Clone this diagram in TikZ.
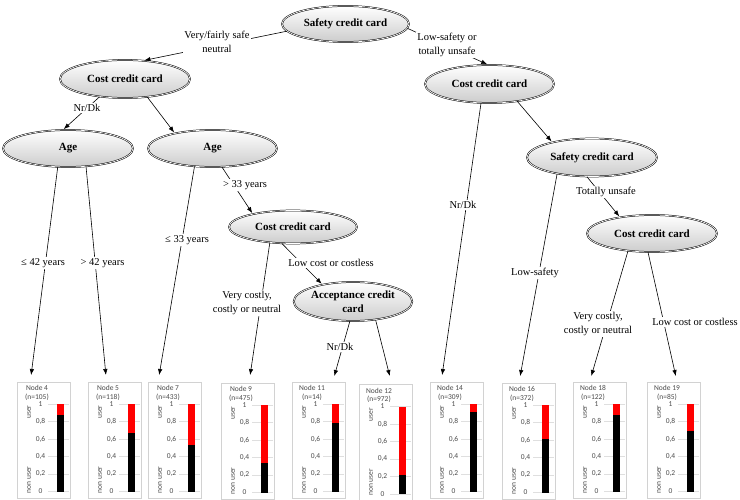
\documentclass[tikz,border=0pt]{standalone}
\usepackage{fontspec}
\setmainfont{Liberation Serif}
\newfontfamily\chartfont{Carlito}
\usetikzlibrary{shapes.geometric,arrows.meta}

% #1 id, #2 left x, #3 n, #4 value (share of non users), #5 vertical shift
\newcommand{\mychart}[5]{%
  \node[chframe, minimum width=53pt, minimum height=116pt, inner sep=0pt] (box#1) at ({#2+26.5},{440+#5}) {};
  \foreach \k in {0,...,5}{%
    \draw[gridln] ({#2+31},{491.5+#5-17.5*\k}) -- ({#2+52},{491.5+#5-17.5*\k});}
  \foreach \k/\lab in {0/0,1/{0,2},2/{0,4},3/{0,6},4/{0,8},5/1}{%
    \node[ctext] (tk#1-\k) at ({#2+23.5},{491.5+#5-17.5*\k}) {\lab};}
  \fill[red] ({#2+40},{404+#5}) rectangle ({#2+46.5},{491.5+#5-87.5*#4});
  \fill[black] ({#2+40},{491.5+#5-87.5*#4}) rectangle ({#2+46.5},{491.5+#5});
  \node[ctext] (ttl#1) at ({#2+20},{388+#5}) {Node #1};
  \node[ctext] (cnt#1) at ({#2+20},{397+#5}) {(n=#3)};
  \node[ctext, rotate=90] (usr#1) at ({#2+12},{412+#5}) {user};
  \node[ctext, rotate=90] (nusr#1) at ({#2+12},{480+#5}) {non user};
}

\begin{document}
\begin{tikzpicture}[x=1pt,y=-1pt,
  ell/.style={ellipse, draw=black, line width=0.5pt, double=white, double distance=0.7pt,
    top color=white, middle color=white, bottom color=gray!40, inner sep=0pt, align=center,
    font=\bfseries\fontsize{11}{14}\selectfont},
  arr/.style={-{Latex[length=6pt,width=4.5pt]}, line width=0.6pt, shorten >=1pt},
  lbl/.style={fill=white, inner sep=1.2pt, align=center, font=\fontsize{10.5}{14}\selectfont},
  chframe/.style={draw=gray!35, line width=0.5pt},
  ctext/.style={font=\chartfont\fontsize{7.5}{9}\selectfont, text=black!70, inner sep=0pt},
  gridln/.style={draw=gray!25, line width=0.4pt}]

\useasboundingbox (0,0) rectangle (740,500);
\fill[white] (0,0) rectangle (740,500);

% decision nodes
\node[ell, minimum width=127pt, minimum height=36pt] (root) at (345.5,24) {Safety credit card};
\node[ell, minimum width=130pt, minimum height=38pt] (costL) at (125,79) {Cost credit card};
\node[ell, minimum width=130pt, minimum height=37pt] (ageL) at (68,148.5) {Age};
\node[ell, minimum width=129pt, minimum height=37pt] (ageM) at (212.5,148.5) {Age};
\node[ell, minimum width=128pt, minimum height=33pt] (costM) at (293,227) {Cost credit card};
\node[ell, minimum width=116pt, minimum height=39pt] (accept) at (353,301.5) {Acceptance credit\\card};
\node[ell, minimum width=129pt, minimum height=38pt] (costR) at (489.5,84) {Cost credit card};
\node[ell, minimum width=130pt, minimum height=38pt] (safeR) at (592,157.5) {Safety credit card};
\node[ell, minimum width=130pt, minimum height=37pt] (costRR) at (652,233.5) {Cost credit card};

% terminal charts
\mychart{4}{17}{105}{0.88}{0}
\mychart{5}{88}{118}{0.67}{0}
\mychart{7}{148}{433}{0.53}{0}
\mychart{9}{221}{475}{0.34}{1}
\mychart{11}{292}{14}{0.78}{0}
\mychart{12}{359}{972}{0.22}{2.5}
\mychart{14}{430}{309}{0.91}{0}
\mychart{16}{502}{372}{0.61}{1}
\mychart{18}{573}{122}{0.88}{0}
\mychart{19}{647}{85}{0.69}{0}

\coordinate (tip4) at (31,376);
\coordinate (tip5) at (106,376);
\coordinate (tip7) at (159,376);
\coordinate (tip9) at (250,376);
\coordinate (tip11) at (334,377);
\coordinate (tip12) at (390,377);
\coordinate (tip14) at (442,376);
\coordinate (tip16) at (520,377);
\coordinate (tip18) at (591,377);
\coordinate (tip19) at (676,377);

% connectors
\draw[arr] (root.187) -- (costL.45);
\draw[arr] (root.-4) -- (costR.94);
\draw[arr] (costL.215) -- (ageL.105);
\draw[arr] (costL.-39) -- (ageM.158);
\draw[arr] (ageL.241) -- (tip4);
\draw[arr] (ageL.-45) -- (tip5);
\draw[arr] (ageM.225) -- (tip7);
\draw[arr] (ageM.-63) -- (costM.162);
\draw[arr] (costM.214) -- (tip9);
\draw[arr] (costM.236) -- (accept.151);
\draw[arr] (accept.261) -- (tip11);
\draw[arr] (accept.-39) -- (tip12);
\draw[arr] (costR.246) -- (tip14);
\draw[arr] (costR.-32) -- (safeR.159);
\draw[arr] (safeR.205) -- (tip16);
\draw[arr] (safeR.255) -- (costRR.153);
\draw[arr] (costRR.216) -- (tip18);
\draw[arr] (costRR.258) -- (tip19);

% connector labels
\node[lbl] (l1) at (217,42) {Very/fairly safe\\neutral};
\node[lbl] (l2) at (447,45) {Low-safety or\\totally unsafe};
\node[lbl] (l3) at (87,108) {Nr/Dk};
\node[lbl] (l4) at (43,263) {≤ 42 years};
\node[lbl] (l5) at (102.5,263) {> 42 years};
\node[lbl] (l6) at (187,240) {≤ 33 years};
\node[lbl] (l7) at (245,185) {> 33 years};
\node[lbl] (l8) at (247,303) {Very costly,\\costly or neutral};
\node[lbl] (l9) at (331,263) {Low cost or costless};
\node[lbl] (l10) at (340,347) {Nr/Dk};
\node[lbl] (l11) at (463,205) {Nr/Dk};
\node[lbl] (l12) at (535,273) {Low-safety};
\node[lbl] (l13) at (606,192) {Totally unsafe};
\node[lbl] (l14) at (598,324) {Very costly,\\costly or neutral};
\node[lbl] (l15) at (695,322) {Low cost or costless};
\end{tikzpicture}
\end{document}
